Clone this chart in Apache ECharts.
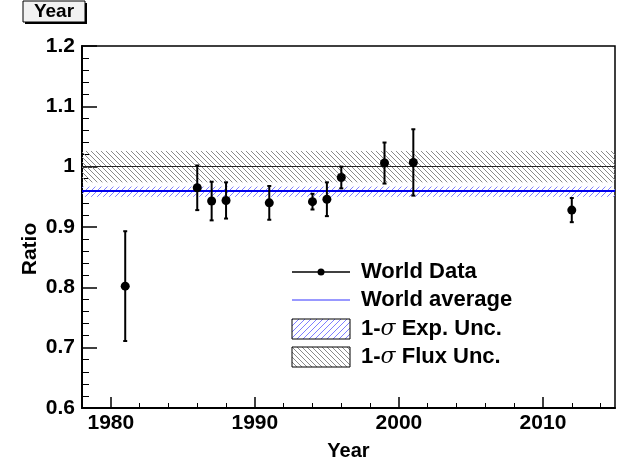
<!DOCTYPE html>
<html>
<head>
<meta charset="utf-8">
<script src="https://cdn.jsdelivr.net/npm/echarts@6/dist/echarts.min.js"></script>
<style>
html, body { margin: 0; padding: 0; background: #fff; }
#chart { width: 622px; height: 466px; }
</style>
</head>
<body>
<div id="chart"></div>
<script>
// measured ratios per year, with symmetric errors
const years = [1981, 1986, 1987, 1988, 1991, 1994, 1995, 1996, 1999, 2001, 2012];
const ratios = [0.802, 0.965, 0.943, 0.944, 0.940, 0.942, 0.946, 0.982, 1.006, 1.007, 0.928];
const errors = [0.091, 0.037, 0.032, 0.030, 0.028, 0.013, 0.028, 0.018, 0.034, 0.055, 0.020];

// average and bands
const worldAverage = 0.958;
const expUnc = [0.950, 0.967];
const fluxRef = 1.0;
const fluxUnc = [0.974, 1.026];

// axis ticks
const xMajorTicks = [1980, 1990, 2000, 2010];
const xMinorTicks = [1982, 1984, 1986, 1988, 1992, 1994, 1996, 1998, 2002, 2004, 2006, 2008, 2012, 2014];

const legendNames = ['World Data', 'World average', '1-σ Exp. Unc.', '1-σ Flux Unc.'];

const FONT = '"Liberation Sans", Arial, Helvetica, sans-serif';
const BLUE_HATCH = '#7f7fff';
const GRAY_HATCH = '#8a8a8a';

// 45 degree hatch segments inside a rect
function hatchLines(x, y, w, h, step, dir, color) {
  const out = [];
  const st = { stroke: color, lineWidth: 1 };
  if (dir === '/') {
    for (let k = Math.ceil((x + y) / step) * step; k <= x + w + y + h; k += step) {
      const a = Math.max(x, k - (y + h)), b = Math.min(x + w, k - y);
      if (b > a) out.push({ type: 'line', shape: { x1: a, y1: k - a, x2: b, y2: k - b }, style: st });
    }
  } else {
    for (let k = Math.ceil((x - y - h) / step) * step; k <= x + w - y; k += step) {
      const a = Math.max(x, k + y), b = Math.min(x + w, k + y + h);
      if (b > a) out.push({ type: 'line', shape: { x1: a, y1: a - k, x2: b, y2: b - k }, style: st });
    }
  }
  return out;
}

// band rows: [low, high, kind]
const bands = [[fluxUnc[0], fluxUnc[1], 0], [expUnc[0], expUnc[1], 1]];
const bandStyle = [{ step: 5, dir: '\\', color: GRAY_HATCH }, { step: 6, dir: '/', color: BLUE_HATCH }];

const points = years.map((y, i) => [y, ratios[i], ratios[i] - errors[i], ratios[i] + errors[i]]);

const chart = echarts.init(document.getElementById('chart'));

const legendY = [272, 300, 329, 357];
const lx0 = 292, lx1 = 350, ltx = 361;
const legendText = (i, txt) => ({
  type: 'text', x: ltx, y: legendY[i],
  style: {
    text: txt, fill: '#000', verticalAlign: 'middle',
    font: 'bold 22px ' + FONT,
    rich: {
      s: { fontFamily: '"DejaVu Serif", serif', fontStyle: 'italic', fontWeight: 'normal', fontSize: 22 },
      b: { fontFamily: FONT, fontWeight: 'bold', fontSize: 22 }
    }
  }
});
const legendBox = (i, bs) => ({
  type: 'group',
  children: hatchLines(lx0, legendY[i] - 10, lx1 - lx0, 20, bs.step, bs.dir, bs.color).concat([
    { type: 'rect', shape: { x: lx0, y: legendY[i] - 10, width: lx1 - lx0, height: 20 }, style: { fill: 'none', stroke: '#000', lineWidth: 1 } }
  ])
});

chart.setOption({
  animation: false,
  grid: { left: 82, right: 7, top: 46, bottom: 57, show: true, borderColor: '#000', borderWidth: 1.5, backgroundColor: 'transparent' },
  xAxis: [{
    type: 'value', min: 1978, max: 2015,
    name: 'Year', nameLocation: 'middle', nameGap: 33,
    nameTextStyle: { fontFamily: FONT, fontWeight: 'bold', fontSize: 20, color: '#000' },
    axisLine: { show: true, lineStyle: { color: '#000', width: 2 } },
    axisTick: { show: true, inside: true, length: 11, customValues: xMajorTicks, lineStyle: { color: '#000', width: 1.5 } },
    axisLabel: { customValues: xMajorTicks, formatter: v => String(v), margin: 5, fontFamily: FONT, fontWeight: 'bold', fontSize: 21, color: '#000' },
    splitLine: { show: false }
  }, {
    type: 'value', min: 1978, max: 2015, position: 'bottom',
    axisLine: { show: false },
    axisTick: { show: true, inside: true, length: 5, customValues: xMinorTicks, lineStyle: { color: '#000', width: 1 } },
    axisLabel: { show: false },
    splitLine: { show: false }
  }],
  yAxis: {
    type: 'value', min: 0.6, max: 1.2, interval: 0.1,
    axisLine: { show: true, lineStyle: { color: '#000', width: 2 } },
    axisTick: { show: true, inside: true, length: 15, lineStyle: { color: '#000', width: 1.5 } },
    minorTick: { show: true, splitNumber: 5, length: 7, lineStyle: { color: '#000', width: 1 } },
    axisLabel: { margin: 7, fontFamily: FONT, fontWeight: 'bold', fontSize: 21, color: '#000' },
    splitLine: { show: false }
  },
  series: [{
    name: 'bands',
    type: 'custom',
    data: bands,
    silent: true,
    z: 1,
    renderItem: (params, api) => {
      const cs = params.coordSys;
      const top = api.coord([1978, api.value(1)])[1];
      const bot = api.coord([1978, api.value(0)])[1];
      const bs = bandStyle[api.value(2)];
      return { type: 'group', children: hatchLines(cs.x, top, cs.width, bot - top, bs.step, bs.dir, bs.color) };
    }
  }, {
    name: 'lines',
    type: 'line',
    data: [],
    markLine: {
      silent: true, symbol: 'none', label: { show: false },
      data: [
        { yAxis: fluxRef, lineStyle: { color: '#222', width: 1.2, type: 'solid' } },
        { yAxis: worldAverage, lineStyle: { color: '#0000ee', width: 2, type: 'solid' } }
      ]
    }
  }, {
    name: legendNames[0],
    type: 'custom',
    data: points,
    z: 5,
    renderItem: (params, api) => {
      const x = api.value(0);
      const c = api.coord([x, api.value(1)]);
      const lo = api.coord([x, api.value(2)]);
      const hi = api.coord([x, api.value(3)]);
      const st = { stroke: '#000', lineWidth: 2 };
      return {
        type: 'group',
        children: [
          { type: 'line', shape: { x1: c[0], y1: lo[1], x2: c[0], y2: hi[1] }, style: st },
          { type: 'line', shape: { x1: c[0] - 2, y1: lo[1], x2: c[0] + 2, y2: lo[1] }, style: st },
          { type: 'line', shape: { x1: c[0] - 2, y1: hi[1], x2: c[0] + 2, y2: hi[1] }, style: st },
          { type: 'circle', shape: { cx: c[0], cy: c[1], r: 4.5 }, style: { fill: '#000' } }
        ]
      };
    }
  }],
  graphic: [
    // title box
    { type: 'rect', shape: { x: 25, y: 3, width: 62, height: 21 }, style: { fill: '#000' } },
    { type: 'rect', shape: { x: 23, y: 1, width: 62, height: 21 }, style: { fill: '#f2f2f2', stroke: '#000', lineWidth: 1 } },
    { type: 'text', x: 54, y: 12, style: { text: 'Year', fill: '#000', align: 'center', verticalAlign: 'middle', font: 'bold 19px ' + FONT } },
    // y title
    { type: 'text', x: 30, y: 249, rotation: Math.PI / 2, style: { text: 'Ratio', fill: '#000', align: 'center', verticalAlign: 'middle', font: 'bold 21px ' + FONT } },
    // legend
    { type: 'line', shape: { x1: lx0, y1: legendY[0], x2: lx1, y2: legendY[0] }, style: { stroke: '#000', lineWidth: 1.5 } },
    { type: 'circle', shape: { cx: (lx0 + lx1) / 2, cy: legendY[0], r: 3.5 }, style: { fill: '#000' } },
    legendText(0, legendNames[0]),
    { type: 'line', shape: { x1: lx0, y1: legendY[1], x2: lx1, y2: legendY[1] }, style: { stroke: '#3333ff', lineWidth: 1 } },
    legendText(1, legendNames[1]),
    legendBox(2, bandStyle[1]),
    legendText(2, '{b|1-}{s|σ}{b| Exp. Unc.}'),
    legendBox(3, bandStyle[0]),
    legendText(3, '{b|1-}{s|σ}{b| Flux Unc.}')
  ]
});
</script>
</body>
</html>
